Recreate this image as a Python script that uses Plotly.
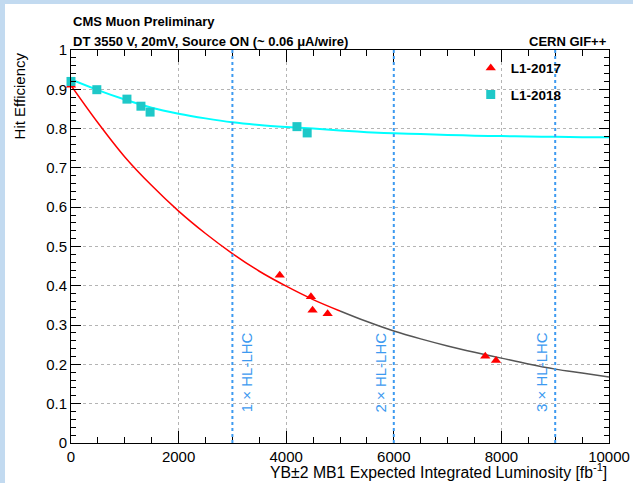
import plotly.graph_objects as go

# ---------------- data ----------------
l1_2017_x = [0, 3880, 4460, 4490, 4770, 7700, 7900]
l1_2017_y = [0.910, 0.427, 0.372, 0.338, 0.329, 0.221, 0.210]

l1_2018_x = [0, 480, 1040, 1300, 1470, 4200, 4390]
l1_2018_y = [0.920, 0.899, 0.875, 0.857, 0.842, 0.805, 0.789]

# fit curves
fit_x = [0, 500, 1000, 1500, 2000, 2500, 3000, 3500, 4000, 4500, 5000,
         5500, 6000, 6500, 7000, 7500, 8000, 8500, 9000, 9500, 10000]
fit_2017 = [0.910, 0.815, 0.728, 0.655, 0.590, 0.533, 0.482, 0.437, 0.399, 0.365, 0.336,
            0.309, 0.285, 0.265, 0.247, 0.231, 0.216, 0.201, 0.188, 0.178, 0.168]
fit_2018 = [0.925, 0.898, 0.874, 0.853, 0.838, 0.826, 0.816, 0.809, 0.804, 0.800, 0.795,
            0.791, 0.788, 0.786, 0.784, 0.782, 0.781, 0.780, 0.779, 0.778, 0.778]
fit_2017_measured_max = 5000

hl_lines = [3000, 6000, 9000]
hl_labels = ["1 \u00d7 HL-LHC", "2 \u00d7 HL-LHC", "3 \u00d7 HL-LHC"]
hl_side = ["right", "left", "left"]

x_ticks = [0, 2000, 4000, 6000, 8000, 10000]
x_tick_text = ["0", "2000", "4000", "6000", "8000", "10000"]
y_ticks = [0, 0.1, 0.2, 0.3, 0.4, 0.5, 0.6, 0.7, 0.8, 0.9, 1.0]
y_tick_text = ["0", "0.1", "0.2", "0.3", "0.4", "0.5", "0.6", "0.7", "0.8", "0.9", "1"]

FONT = "Liberation Sans, Arial, Helvetica, sans-serif"
HL_COLOR = "#3d9af0"

fig = go.Figure()

# fits
red_x = [x for x in fit_x if x <= fit_2017_measured_max]
red_y = [y for x, y in zip(fit_x, fit_2017) if x <= fit_2017_measured_max]
gray_x = [x for x in fit_x if x >= fit_2017_measured_max]
gray_y = [y for x, y in zip(fit_x, fit_2017) if x >= fit_2017_measured_max]

fig.add_trace(go.Scatter(x=gray_x, y=gray_y, mode="lines", line=dict(color="#555555", width=1.5, shape="spline"),
                         showlegend=False, hoverinfo="skip"))
fig.add_trace(go.Scatter(x=red_x, y=red_y, mode="lines", line=dict(color="#ff0000", width=1.5, shape="spline"),
                         showlegend=False, hoverinfo="skip"))
fig.add_trace(go.Scatter(x=fit_x, y=fit_2018, mode="lines", line=dict(color="#00ffff", width=2, shape="spline"),
                         showlegend=False, hoverinfo="skip"))

# HL-LHC lines
for xv, lab, side in zip(hl_lines, hl_labels, hl_side):
    fig.add_shape(type="line", xref="x", yref="y", x0=xv, x1=xv, y0=0, y1=1,
                  line=dict(color=HL_COLOR, width=2, dash="dot"))
    fig.add_annotation(x=xv, y=0.18, xref="x", yref="y", text=lab, showarrow=False,
                       textangle=-90, font=dict(family=FONT, size=15, color=HL_COLOR),
                       xanchor="left" if side == "right" else "right", yanchor="middle",
                       xshift=3 if side == "right" else -3)

# data points
fig.add_trace(go.Scatter(x=l1_2017_x, y=l1_2017_y, mode="markers", name="L1-2017",
                         marker=dict(symbol="triangle-up", size=9, color="#ff0000"),
                         cliponaxis=False, legendgroup="a"))
fig.add_trace(go.Scatter(x=l1_2018_x, y=l1_2018_y, mode="markers", name="L1-2018",
                         marker=dict(symbol="square", size=9, color="#1ec8c8"),
                         cliponaxis=False, legendgroup="b"))

axis_common = dict(showline=True, linecolor="black", linewidth=1, mirror="allticks",
                   ticks="inside", tickcolor="black", zeroline=False, automargin=False,
                   showgrid=True, gridcolor="#b4b4b4", griddash="dot", gridwidth=1,
                   tickfont=dict(family=FONT, size=15, color="black"))

fig.update_xaxes(range=[0, 10000], tickvals=x_ticks, ticktext=x_tick_text, ticklen=12,
                 minor=dict(ticks="inside", dtick=500, ticklen=6, tickcolor="black", showgrid=False),
                 **axis_common)
fig.update_yaxes(range=[0, 1], tickvals=y_ticks, ticktext=y_tick_text, ticklen=10,
                 minor=dict(ticks="inside", dtick=0.02, ticklen=5, tickcolor="black", showgrid=False),
                 **axis_common)

# texts
fig.add_annotation(xref="paper", yref="paper", x=0, y=1.072, xanchor="left", yanchor="middle",
                   text="<b>CMS Muon Preliminary</b>", showarrow=False,
                   font=dict(family=FONT, size=13, color="black"))
fig.add_annotation(xref="paper", yref="paper", x=0, y=1.022, xanchor="left", yanchor="middle",
                   text="<b>DT 3550 V, 20mV, Source ON (~ 0.06 \u03bcA/wire)</b>", showarrow=False,
                   font=dict(family=FONT, size=13, color="black"))
fig.add_annotation(xref="paper", yref="paper", x=1, y=1.022, xanchor="right", yanchor="middle",
                   text="<b>CERN GIF++</b>", showarrow=False,
                   font=dict(family=FONT, size=13, color="black"))
fig.add_annotation(xref="paper", yref="paper", x=-0.095, y=1, xanchor="center", yanchor="top",
                   text="Hit Efficiency", showarrow=False, textangle=-90,
                   font=dict(family=FONT, size=15, color="black"))
fig.add_annotation(xref="paper", yref="paper", x=1, y=-0.072, xanchor="right", yanchor="middle",
                   text="YB\u00b12 MB1 Expected Integrated Luminosity [fb<sup>-1</sup>]", showarrow=False,
                   font=dict(family=FONT, size=15.8, color="black"))

# light blue frame strips
fig.add_shape(type="rect", xref="paper", yref="paper", x0=-0.14, x1=-0.1227, y0=-0.12, y1=1.14,
              fillcolor="#c2daf0", line=dict(width=0), layer="below")
fig.add_shape(type="rect", xref="paper", yref="paper", x0=-0.14, x1=1.06, y0=1.117, y1=1.14,
              fillcolor="#c2daf0", line=dict(width=0), layer="below")

fig.update_layout(
    width=633, height=483,
    margin=dict(l=71, r=24, t=50, b=40),
    paper_bgcolor="white", plot_bgcolor="white",
    font=dict(family=FONT, size=15, color="black"),
    legend=dict(x=0.743, y=0.993, xanchor="left", yanchor="top",
                font=dict(family=FONT, size=13.5, color="black", weight="bold"),
                bgcolor="rgba(255,255,255,0)", borderwidth=0, tracegroupgap=6),
    showlegend=True,
)

fig.write_html("out.html")
